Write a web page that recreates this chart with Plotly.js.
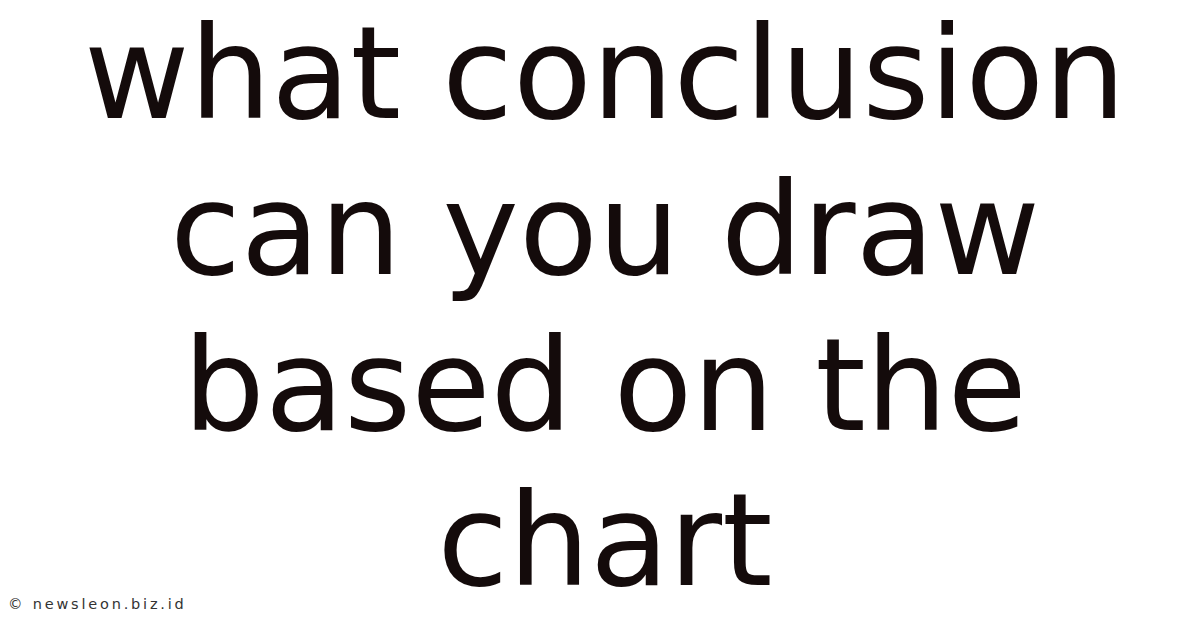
<!DOCTYPE html>
<html>
<head>
<meta charset="utf-8">
<script src="https://cdn.plot.ly/plotly-3.0.1.min.js"></script>
<style>
  html, body { margin: 0; padding: 0; background: #ffffff; }
  #chart { width: 1200px; height: 628px; }
</style>
</head>
<body>
<div id="chart"></div>
<script>
// the picture holds only a question, set in four lines, and a source note
var lines = ['what conclusion', 'can you draw', 'based on the', 'chart'];
var lineIndex = [0, 1, 2, 3];
var credit = '© newsleon.biz.id';

var W = 1200, H = 628;
var fontSize = 129;
var firstCenter = 86;
var lineStep = 155.7;
var centerX = 605;

var text = {
  type: 'scatter',
  mode: 'text',
  x: lineIndex.map(function () { return centerX; }),
  y: lineIndex.map(function (i) { return firstCenter + i * lineStep; }),
  text: lines,
  textposition: 'middle center',
  textfont: { family: 'DejaVu Sans', size: fontSize, color: '#140b0b' },
  cliponaxis: false,
  hoverinfo: 'skip',
  showlegend: false
};

var layout = {
  width: W,
  height: H,
  margin: { t: 0, b: 0, l: 0, r: 0, pad: 0 },
  paper_bgcolor: '#ffffff',
  plot_bgcolor: '#ffffff',
  xaxis: { range: [0, W], visible: false, fixedrange: true },
  yaxis: { range: [H, 0], visible: false, fixedrange: true },
  showlegend: false,
  annotations: [{
    xref: 'paper', yref: 'paper',
    x: 0, y: 0,
    xshift: 6, yshift: 14,
    xanchor: 'left', yanchor: 'bottom',
    showarrow: false,
    text: '<span style="letter-spacing:2.8px">' + credit + '</span>',
    font: { family: 'DejaVu Sans', size: 14.5, color: '#333333' }
  }]
};

Plotly.newPlot('chart', [text], layout, { displayModeBar: false, staticPlot: true });
</script>
</body>
</html>
